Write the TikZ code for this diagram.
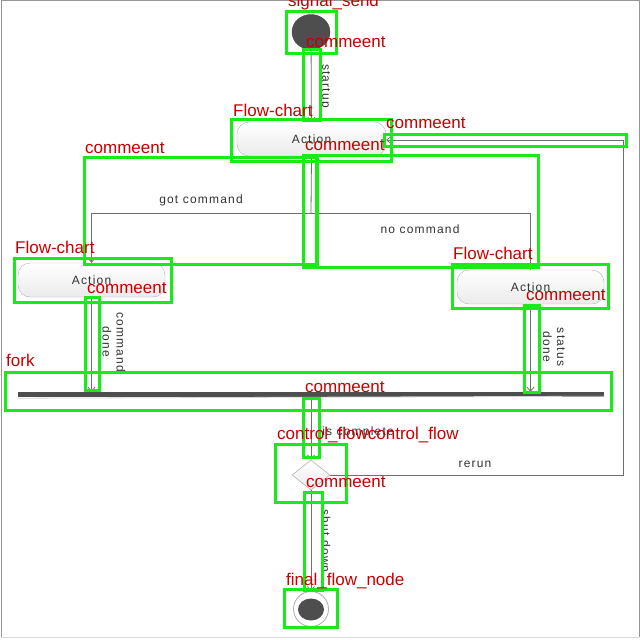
\documentclass[tikz,border=0pt]{standalone}
\usepackage{fontspec}
\setmainfont{Liberation Sans}
\newfontfamily\diagfont[LetterSpace=10]{Liberation Sans}
\usetikzlibrary{arrows.meta,shapes.geometric}

\definecolor{gboxc}{RGB}{25,235,25}
\definecolor{redlab}{RGB}{200,0,0}
\definecolor{flowc}{RGB}{110,110,110}
\definecolor{darkfill}{RGB}{78,78,78}
\definecolor{framec}{RGB}{150,150,150}

\tikzset{
  action/.style={rectangle, rounded corners=12pt, draw=gray!60, top color=white,
    bottom color=gray!16, minimum width=149pt, minimum height=34pt, inner sep=0pt,
    font=\diagfont\fontsize{12}{14}\selectfont, text=black!80},
  flow/.style={draw=flowc, line width=0.8pt, -{Straight Barb[length=4pt,width=7pt]}},
  plainflow/.style={draw=flowc, line width=0.8pt},
  gbox/.style={draw=gboxc, line width=3pt},
  tag/.style={text=redlab, font=\fontsize{17}{20}\selectfont, anchor=base west, inner sep=0pt},
  lbl/.style={font=\diagfont\fontsize{12}{14}\selectfont, text=black!80, inner sep=0pt, align=center},
}

\begin{document}
\begin{tikzpicture}[x=1pt,y=-1pt]
\useasboundingbox (0,0) rectangle (640,640);
\fill[white] (0,0) rectangle (640,640);
% outer frame
\draw[framec, line width=1pt] (1,0.5) -- (639,0.5) -- (639,637);
\draw[framec, line width=1pt] (1,0.5) -- (1,637);
\draw[gray!30, line width=1pt] (1,637) -- (639,637);

% ---- activity diagram ----
\node[ellipse, fill=darkfill, draw=black!75, line width=0.4pt,
      minimum width=38pt, minimum height=35pt, inner sep=0pt] (init) at (311,32) {};
\node[action] (act1) at (311.5,139) {Action};
\node[action, minimum width=147pt] (act2) at (91.5,280) {Action};
\node[action, minimum width=147pt] (act3) at (530.5,287) {Action};
\node[rectangle, fill=darkfill, minimum width=586pt, minimum height=5pt, inner sep=0pt] (fork) at (311,394.5) {};
\draw[gray!35, line width=0.8pt] (fork.south west) ++(0,1) -- ([yshift=1pt]fork.south east);
\node[diamond, draw=gray!60, top color=white, bottom color=gray!15, line width=0.6pt,
      minimum width=38pt, minimum height=30pt, inner sep=0pt] (dec) at (311,475) {};
\node[circle, draw=gray!65, fill=white, line width=0.8pt, minimum size=35pt, inner sep=0pt] (final) at (311,609) {};
\node[ellipse, fill=darkfill, minimum width=26pt, minimum height=22pt, inner sep=0pt] (finaldot) at (311,609.5) {};

\coordinate (split) at (311,213);
\coordinate (gcL) at (91.5,213);
\coordinate (gcR) at (530.5,213);
\coordinate (rrA) at (623,475);
\coordinate (rrB) at (623,140);

\draw[flow] (init) -- (act1);
\draw[plainflow] (act1.south) -- (split);
\draw[flow] (split) -- (gcL) -- (act2.north);
\draw[flow] (split) -- (gcR) -- (act3.north);
\draw[flow] (act2.south) -- (act2.south |- fork.north);
\draw[flow] (act3.south) -- (act3.south |- fork.north);
\draw[flow] (fork.south -| dec.north) -- (dec.north);
\draw[flow] (dec.south) -- (final.north);
\draw[flow] (dec.east) -- (rrA) -- (rrB) -- (act1.east |- rrB);

\node[lbl, rotate=-90] (l1) at (325,86) {startup};
\node[lbl] (l2) at (201,200) {got command};
\node[lbl] (l3) at (420,229) {no command};
\node[lbl, rotate=-90] (l4) at (114,342) {command\\done};
\node[lbl, rotate=-90] (l5) at (554,347) {status\\done};
\node[lbl] (l6) at (358,432) {is complete};
\node[lbl] (l7) at (475,464) {rerun};
\node[lbl, rotate=-90] (l8) at (326,541) {shut down};

% ---- annotation boxes and tags ----
\draw[gbox] (286,11) rectangle (336,53);
\node[tag] (t1) at (288,6) {signal\_send};
\draw[gbox] (303,49) rectangle (320,120);
\node[tag] (t2) at (306,47) {commeent};
\draw[gbox] (231,119) rectangle (391,161);
\node[tag] (t3) at (233,116) {Flow-chart};
\draw[gbox] (384,134) rectangle (626,146);
\node[tag] (t4) at (386,128) {commeent};
\draw[gbox] (84,157) rectangle (316,264);
\node[tag] (t5) at (85,153) {commeent};
\draw[gbox] (14,258) rectangle (171,302);
\node[tag] (t6) at (15,253) {Flow-chart};
\node[tag] (t7) at (453,259) {Flow-chart};
\draw[gbox] (303,155) rectangle (317,265);
\draw[gbox] (303,155) rectangle (538,267);
\node[tag] (t8) at (305,150) {commeent};
\draw[gbox] (452,264) rectangle (608,308);
\draw[gbox] (85,297) rectangle (99,390);
\node[tag] (t9) at (87,293) {commeent};
\draw[gbox] (524,305) rectangle (539,392);
\node[tag] (t10) at (526,300) {commeent};
\draw[gbox] (5,372) rectangle (611,410);
\node[tag] (t11) at (6,366) {fork};
\draw[gbox] (303,398) rectangle (319,457);
\node[tag] (t12) at (305,392) {commeent};
\draw[gbox] (275,444) rectangle (346,502);
\node[tag] (t13) at (277,439) {control\_flowcontrol\_flow};
\draw[gbox] (304,492) rectangle (322,590);
\node[tag] (t14) at (306,487) {commeent};
\draw[gbox] (284,589) rectangle (337,627);
\node[tag] (t15) at (286,585) {final\_flow\_node};
\end{tikzpicture}
\end{document}
